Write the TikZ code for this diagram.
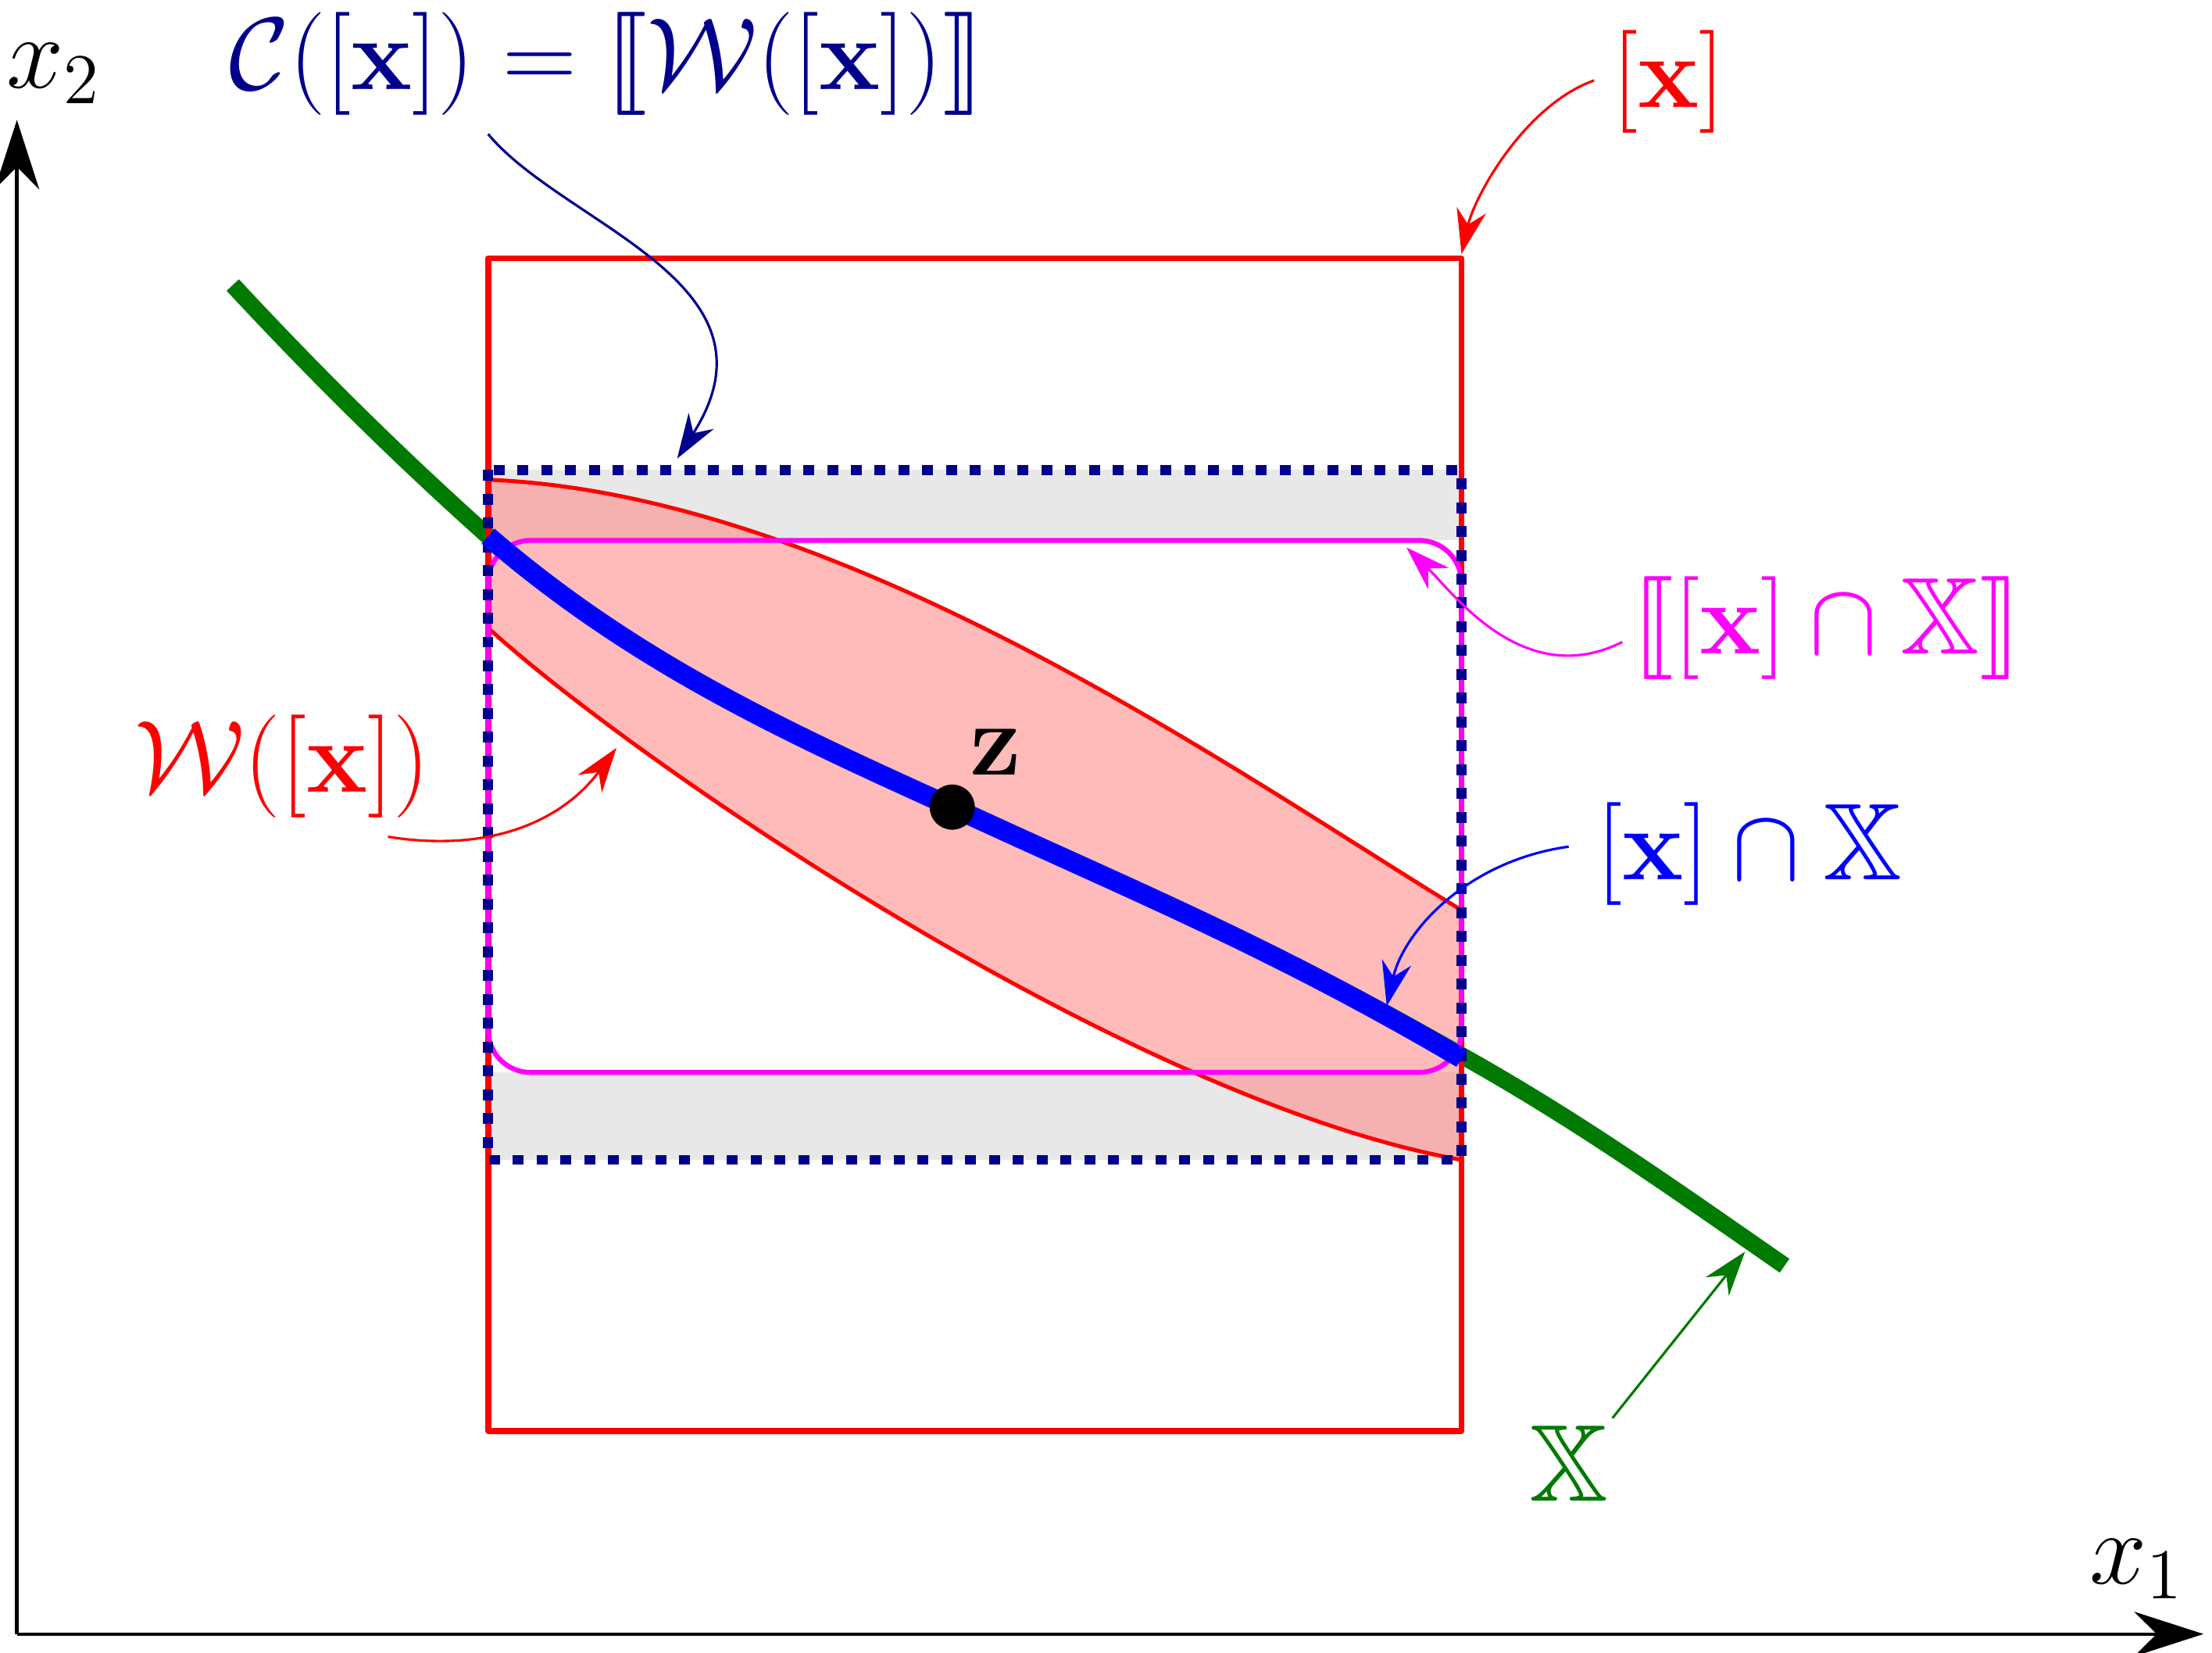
\documentclass[tikz,border=0pt]{standalone}
\usepackage{amsmath,amssymb,stmaryrd}
\usetikzlibrary{arrows.meta}
\definecolor{navy}{rgb}{0,0,0.55}
\definecolor{dgreen}{rgb}{0,0.48,0}
\definecolor{mag}{rgb}{1,0,1}
\tikzset{lab/.style={font=\fontsize{22}{26}\selectfont},
 ptr/.style={-{Stealth[length=9pt,width=6pt]},line width=0.5pt}}
\begin{document}
\begin{tikzpicture}[x=0.01cm,y=-0.01cm]
\useasboundingbox (0,0) rectangle (1568,1171);
% axes
\coordinate (o) at (12,1158); \coordinate (ya) at (12,85); \coordinate (xa) at (1562,1158);
\draw[-{Stealth[length=14pt,width=9pt]},line width=0.7pt] (o)--(ya);
\draw[-{Stealth[length=14pt,width=9pt]},line width=0.7pt] (o)--(xa);
\node[lab] (x2) at (38,52) {$x_2$};
\node[lab] (x1) at (1515,1112) {$x_1$};
% gray bands
\fill[gray!18] (346,333) rectangle (1036,383);
\fill[gray!18] (346,760) rectangle (1036,822);
% pink set
\fill[red!45,opacity=0.6] (346,340) .. controls (600,350) and (880,550) .. (1036,645) -- (1036,822) .. controls (800,780) and (450,540) .. (346,445) -- cycle;
\draw[red,line width=0.8pt] (346,340) .. controls (600,350) and (880,550) .. (1036,645);
\draw[red,line width=0.8pt] (1036,822) .. controls (800,780) and (450,540) .. (346,445);
% green curve
\draw[dgreen,line width=3.4pt] (165,202) .. controls (230,272) and (290,330) .. (346,380)
  .. controls (450,470) and (560,520) .. (675,572)
  .. controls (800,630) and (900,670) .. (1036,748)
  .. controls (1120,795) and (1190,845) .. (1265,897);
% red box
\draw[red,line width=1.2pt,line join=round] (346,183) rectangle (1036,1014);
% magenta rounded box
\draw[mag,line width=1pt,rounded corners=0.3cm] (346,383) rectangle (1036,760);
% dotted navy box
\draw[navy,line width=2pt,dash pattern=on 2.2pt off 2.6pt] (346,333) rectangle (1036,822);
% blue curve
\draw[blue,line width=4pt] (346,380)
  .. controls (450,470) and (560,520) .. (675,572)
  .. controls (800,630) and (900,670) .. (1036,750);
% point z
\fill (675,572) circle (0.16cm);
\node[lab] (z) at (706,533) {$\mathbf{z}$};
% labels
\node[lab,navy] (C) at (430,45) {$\mathcal{C}([\mathbf{x}])=\llbracket\mathcal{W}([\mathbf{x}])\rrbracket$};
\node[lab,red] (X) at (1183,58) {$[\mathbf{x}]$};
\node[lab,mag] (M) at (1295,445) {$\llbracket[\mathbf{x}]\cap\mathbb{X}\rrbracket$};
\node[lab,red] (W) at (200,543) {$\mathcal{W}([\mathbf{x}])$};
\node[lab,blue] (B) at (1240,605) {$[\mathbf{x}]\cap\mathbb{X}$};
\node[lab,dgreen] (G) at (1112,1037) {$\mathbb{X}$};
\coordinate (c1) at (346,95); \coordinate (c2) at (480,325);
\coordinate (r1) at (1130,57); \coordinate (r2) at (1036,180);
\coordinate (m1) at (1150,455); \coordinate (m2) at (997,388);
\coordinate (w1) at (275,593); \coordinate (w2) at (437,530);
\coordinate (b1) at (1112,600); \coordinate (b2) at (983,713);
\coordinate (g1) at (1143,1005); \coordinate (g2) at (1237,887);
\draw[ptr,navy] (c1) .. controls (400,160) and (560,200) .. (c2);
\draw[ptr,red] (r1) .. controls (1080,75) and (1045,140) .. (r2);
\draw[ptr,mag] (m1) .. controls (1080,490) and (1030,420) .. (m2);
\draw[ptr,red] (w1) .. controls (350,605) and (400,580) .. (w2);
\draw[ptr,blue] (b1) .. controls (1040,610) and (995,660) .. (b2);
\draw[ptr,dgreen] (g1) -- (g2);
\end{tikzpicture}
\end{document}
